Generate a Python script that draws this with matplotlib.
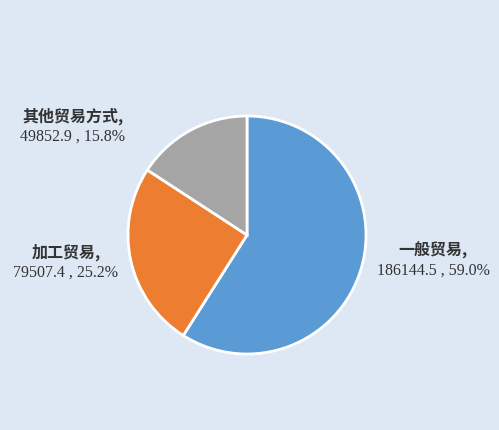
import matplotlib.pyplot as plt

names = ['一般贸易', '加工贸易', '其他贸易方式']
values = [186144.5, 79507.4, 49852.9]
shares = [59.0, 25.2, 15.8]
colors = ['#5b9bd5', '#ed7d31', '#a5a5a5']

# label anchors in pixel coordinates (x, y from top)
label_pos = [(433, 260), (66, 262), (73, 126)]

W, H = 499, 430
bg = '#dde8f4'
fig = plt.figure(figsize=(W / 100, H / 100), dpi=100, facecolor=bg)
ax = fig.add_axes([0, 0, 1, 1])
ax.set_facecolor(bg)

ax.pie(values, colors=colors, startangle=90, counterclock=False,
       center=(247, H - 235), radius=119, frame=True,
       wedgeprops=dict(edgecolor='white', linewidth=2))
ax.set_xlim(0, W)
ax.set_ylim(0, H)
ax.set_aspect('equal')
ax.axis('off')

for name, val, pct, (x, y) in zip(names, values, shares, label_pos):
    ax.text(x, H - (y - 10), name + ',', ha='center', va='center', fontsize=11.5,
            family=['Noto Sans CJK SC', 'DejaVu Sans'], fontweight='bold',
            color='#333333')
    ax.text(x, H - (y + 11), f'{val} , {pct:.1f}%', ha='center', va='center',
            fontsize=11.5, family='Liberation Serif', color='#333333')

fig.savefig('out.png', dpi=100, facecolor=bg)
